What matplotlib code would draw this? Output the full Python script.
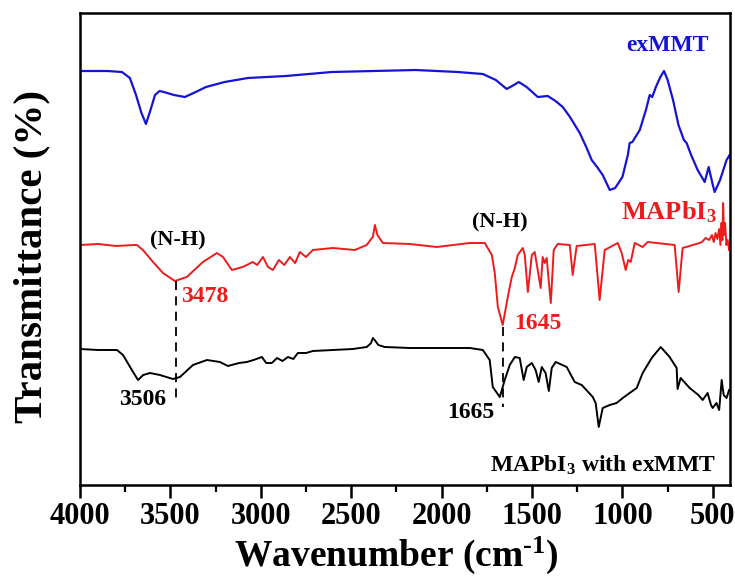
import matplotlib
matplotlib.use("Agg")
import matplotlib.pyplot as plt
from matplotlib.ticker import MultipleLocator

plt.rcParams['font.family'] = 'Liberation Serif'
plt.rcParams['font.weight'] = 'bold'
plt.rcParams['axes.labelweight'] = 'bold'
plt.rcParams['mathtext.fontset'] = 'custom'
plt.rcParams['mathtext.rm'] = 'Liberation Serif:bold'
plt.rcParams['mathtext.bf'] = 'Liberation Serif:bold'
plt.rcParams['mathtext.it'] = 'Liberation Serif:bold'

# exMMT spectrum (offset, arbitrary units)
wn_mmt = [4000, 3850, 3768, 3724, 3690, 3660, 3635, 3610, 3585, 3560, 3536, 3480,
          3420, 3360, 3303, 3200, 3071, 2861, 2607, 2375, 2143, 1910, 1772, 1700,
          1640, 1600, 1573, 1530, 1468, 1413, 1370, 1330, 1290, 1236, 1200, 1170,
          1140, 1109, 1070, 1040, 1000, 970, 960, 945, 904, 870, 849, 835, 815,
          790, 770, 750, 720, 690, 660, 645, 620, 584, 545, 523, 500, 490, 460,
          424, 407]
t_mmt = [414, 414, 413, 407, 390, 372, 361, 375, 390, 394, 393, 390,
         388, 393, 398, 403, 407, 409, 413, 414, 415, 413, 411, 405,
         396, 400, 403, 398, 388, 389, 384, 378, 368, 352, 338, 325,
         318, 310, 295, 297, 308, 330, 342, 343, 355, 375, 390, 388, 398,
         408, 414, 405, 385, 360, 345, 342, 330, 315, 303, 318, 300, 293, 305,
         325, 330]

# MAPbI3 spectrum
wn_mapi = [4000, 3900, 3800, 3700, 3685, 3652, 3596, 3541, 3475, 3409, 3320, 3243,
           3209, 3160, 3100, 3044, 3020, 2988, 2960, 2933, 2900, 2870, 2839, 2810,
           2784, 2750, 2712, 2601, 2480, 2414, 2390, 2380, 2369, 2355, 2325, 2176,
           2027, 1844, 1761, 1745, 1722, 1706, 1689, 1662, 1634, 1612, 1595, 1579,
           1551, 1540, 1523, 1501, 1485, 1452, 1441, 1430, 1419, 1396, 1380, 1358,
           1291, 1275, 1253, 1153, 1126, 1098, 1026, 1004, 982, 968, 954, 932,
           888, 860, 711, 689, 667, 573, 560, 540, 520, 505, 495, 485, 475, 465,
           458, 452, 447, 443, 438, 432, 425, 418, 410]
t_mapi = [240, 241, 239, 240, 240, 235, 223, 212, 204, 208, 223, 232,
          228, 215, 218, 223, 220, 228, 218, 215, 225, 220, 228, 222,
          233, 228, 235, 237, 235, 240, 246, 248, 260, 250, 242, 241,
          238, 242, 242, 237, 230, 212, 178, 160, 188, 208, 217, 230,
          237, 230, 193, 230, 233, 197, 228, 222, 227, 182, 235, 241,
          240, 210, 239, 241, 185, 235, 242, 232, 215, 225, 223, 242,
          238, 243, 240, 193, 237, 242, 243, 247, 245, 250, 243, 252, 246, 256,
          240, 262, 245, 282, 250, 262, 240, 245, 235]

# MAPbI3 with exMMT spectrum
wn_mix = [4000, 3900, 3795, 3762, 3713, 3679, 3650, 3613, 3558, 3486, 3447, 3375,
          3298, 3226, 3182, 3120, 3077, 3040, 2994, 2970, 2939, 2910, 2880, 2850,
          2820, 2795, 2750, 2712, 2491, 2414, 2390, 2380, 2370, 2350, 2314, 2176,
          1844, 1772, 1734, 1717, 1678, 1651, 1623, 1595, 1568, 1546, 1529, 1501,
          1480, 1463, 1446, 1425, 1407, 1391, 1369, 1308, 1264, 1225, 1164, 1148,
          1131, 1109, 1070, 1032, 998, 960, 921, 888, 838, 788, 739, 700, 695,
          678, 628, 580, 556, 529, 510, 501, 480, 465, 451, 440, 424, 410]
t_mix = [136, 135, 135, 130, 115, 105, 110, 112, 110, 106, 108, 120,
         125, 123, 119, 122, 123, 125, 128, 122, 122, 127, 124, 128,
         126, 132, 132, 134, 136, 138, 142, 147, 145, 140, 138, 137,
         137, 135, 125, 98, 88, 105, 120, 128, 127, 105, 118, 122,
         115, 103, 118, 112, 94, 117, 123, 118, 103, 100, 88, 82,
         58, 77, 80, 82, 87, 92, 97, 112, 127, 138, 128, 117, 96,
         107, 97, 90, 85, 92, 80, 77, 82, 75, 105, 90, 87, 95]

blue = '#1414d2'
red = '#ec1c1c'

fig = plt.figure(figsize=(7.35, 5.83), dpi=100)
ax = fig.add_axes([0.1088, 0.1681, 0.8844, 0.8096])

ax.plot(wn_mmt, t_mmt, color=blue, lw=1.6)
ax.plot(wn_mapi, t_mapi, color=red, lw=1.4)
ax.plot(wn_mix, t_mix, color='black', lw=1.4)

# peak markers
ax.plot([3469, 3469], [204, 83], color='black', lw=1.3, ls=(0, (5, 3.5)))
ax.plot([1658, 1658], [158, 78], color='black', lw=1.3, ls=(0, (5, 3.5)))

ax.text(752, 440, 'exMMT', color=blue, fontsize=17, ha='center', va='center')
ax.text(744, 273, r'MAPbI$_{3}$', color=red, fontsize=19, ha='center', va='center')
ax.text(3458, 245, '(N-H)', fontsize=16, ha='center', va='center')
ax.text(1678, 263, '(N-H)', fontsize=16, ha='center', va='center')
ax.text(3309, 188, '3478', color=red, fontsize=17, ha='center', va='center')
ax.text(1470, 161, '1645', color=red, fontsize=17, ha='center', va='center')
ax.text(3652, 85, '3506', fontsize=17, ha='center', va='center')
ax.text(1839, 72, '1665', fontsize=17, ha='center', va='center')
ax.text(1110, 20, r'MAPbI$_{3}$ with exMMT', fontsize=17, ha='center', va='center')

ax.set_xlim(4000, 405)
ax.set_ylim(0, 472)
ax.set_yticks([])
ax.xaxis.set_major_locator(MultipleLocator(500))
ax.xaxis.set_minor_locator(MultipleLocator(250))
ax.tick_params(axis='x', which='major', direction='out', length=9, width=1.8,
               labelsize=22, pad=3)
ax.tick_params(axis='x', which='minor', direction='out', length=5, width=1.6)
for s in ax.spines.values():
    s.set_linewidth(1.8)

ax.set_xlabel(r'Wavenumber (cm$^{\text{-1}}$)', fontsize=27, fontweight='bold')
ax.set_ylabel('Transmittance (%)', fontsize=29.5, fontweight='bold')
ax.xaxis.set_label_coords(0.487, -0.106)
ax.yaxis.set_label_coords(-0.045, 0.485)

plt.savefig('out.png', dpi=100)
